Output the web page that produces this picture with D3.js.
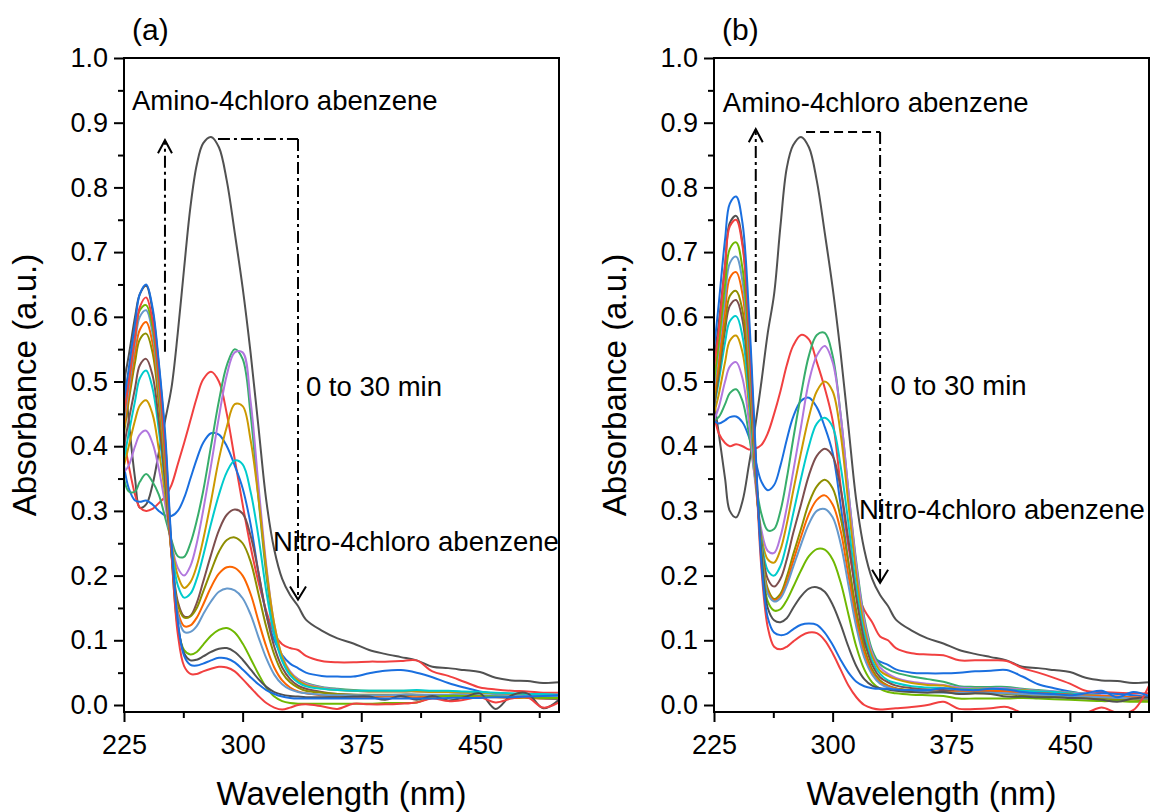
<!DOCTYPE html>
<html><head><meta charset="utf-8">
<script src="https://cdn.jsdelivr.net/npm/d3@7"></script>
<style>
body{margin:0;background:#fff}
svg{display:block}
text{font-family:"Liberation Sans",Arial,Helvetica,sans-serif;fill:#000}
</style>
</head><body>
<svg id="chart" width="1150" height="812"></svg>
<script>
// ---------- data ----------
const wavelength = [225,228,232,235,239,243,247,251,255,259,263,267,271,275,280,285,290,295,300,305,310,315,320,325,330,335,340,350,360,370,380,390,400,410,420,430,440,450,460,470,480,490,500];

const seriesColors = ["#515151","#F14040","#1A6FDF","#37AD6B","#B177DE","#CC9900","#00CBCC","#7D4E4E","#8E8E00","#FB6501","#6699CC","#6FB802","#515151","#F14040","#1A6FDF"];

const xMajorTicks = [225,300,375,450];
const xMinorTicks = [262.5,337.5,412.5,487.5];
const yMajorTicks = [0,0.1,0.2,0.3,0.4,0.5,0.6,0.7,0.8,0.9,1.0];
const yMinorTicks = [0.05,0.15,0.25,0.35,0.45,0.55,0.65,0.75,0.85,0.95];
const panelLabels = ["(a)","(b)"];
const annotationTexts = ["Amino-4chloro abenzene","0 to 30 min","Nitro-4chloro abenzene"];

// panel (a): absorbance spectra, 0 .. 30 min
const absorbanceA = [
 [0.525,0.44,0.35,0.305,0.31, 0.34,0.39,0.44,0.49,0.575, 0.675,0.77,0.835,0.868,0.878, 0.862,0.81,0.73,0.645,0.545, 0.43,0.315,0.24,0.195,0.17, 0.153,0.132,0.115,0.103,0.095, 0.085,0.079,0.074,0.069,0.059, 0.057,0.054,0.051,0.042,0.038, 0.037,0.034,0.035],
 [0.41,0.37,0.325,0.305,0.30, 0.303,0.312,0.322,0.34,0.372, 0.405,0.44,0.475,0.503,0.515, 0.50,0.45,0.38,0.31,0.245, 0.19,0.145,0.11,0.094,0.088, 0.085,0.076,0.068,0.066,0.066, 0.067,0.067,0.068,0.069,0.052, 0.045,0.036,0.027,0.024,0.022, 0.021,0.019,0.019],
 [0.37,0.335,0.316,0.314,0.316, 0.31,0.30,0.293,0.292,0.30, 0.32,0.35,0.38,0.405,0.42, 0.418,0.40,0.37,0.335,0.28, 0.205,0.14,0.10,0.077,0.064, 0.057,0.05,0.045,0.044,0.044, 0.049,0.053,0.054,0.05,0.043, 0.034,0.027,0.021,0.017,0.014, 0.012,0.01,0.009],
 [0.35,0.33,0.33,0.345,0.357, 0.345,0.325,0.29,0.255,0.23, 0.229,0.25,0.285,0.33,0.40, 0.47,0.525,0.55,0.535,0.45, 0.32,0.20,0.115,0.07,0.05, 0.04,0.034,0.028,0.025,0.023, 0.022,0.022,0.022,0.022,0.021, 0.021,0.02,0.02,0.018,0.017, 0.016,0.015,0.015],
 [0.36,0.37,0.40,0.418,0.424, 0.405,0.365,0.31,0.25,0.212, 0.20,0.215,0.25,0.30,0.37, 0.445,0.51,0.545,0.545,0.47, 0.34,0.215,0.125,0.075,0.052, 0.04,0.033,0.027,0.024,0.022, 0.021,0.021,0.021,0.021,0.02, 0.02,0.019,0.019,0.018,0.017, 0.016,0.015,0.015],
 [0.37,0.40,0.44,0.463,0.471, 0.45,0.395,0.325,0.25,0.20, 0.181,0.19,0.215,0.255,0.315, 0.38,0.43,0.465,0.462,0.41, 0.32,0.21,0.125,0.075,0.05, 0.038,0.031,0.026,0.023,0.022, 0.021,0.021,0.021,0.021,0.02, 0.02,0.019,0.019,0.018,0.017, 0.016,0.015,0.014],
 [0.38,0.42,0.47,0.505,0.517, 0.49,0.425,0.34,0.245,0.185, 0.166,0.172,0.195,0.23,0.28, 0.325,0.36,0.378,0.372,0.33, 0.26,0.175,0.108,0.068,0.046, 0.035,0.029,0.025,0.023,0.022, 0.022,0.022,0.022,0.023,0.022, 0.022,0.021,0.02,0.019,0.018, 0.017,0.017,0.016],
 [0.40,0.44,0.49,0.525,0.535, 0.51,0.44,0.345,0.235,0.16, 0.137,0.138,0.158,0.19,0.232, 0.27,0.294,0.302,0.296,0.262, 0.205,0.14,0.09,0.058,0.04, 0.03,0.025,0.02,0.017,0.016, 0.015,0.015,0.015,0.015,0.015, 0.015,0.014,0.014,0.013,0.013, 0.012,0.012,0.012],
 [0.42,0.47,0.53,0.565,0.574, 0.545,0.465,0.36,0.235,0.155, 0.135,0.137,0.15,0.175,0.207, 0.237,0.255,0.259,0.25,0.222, 0.172,0.12,0.078,0.05,0.035, 0.027,0.022,0.019,0.017,0.016, 0.016,0.016,0.016,0.016,0.015, 0.015,0.015,0.014,0.014,0.013, 0.013,0.012,0.012],
 [0.43,0.48,0.545,0.58,0.592, 0.56,0.48,0.37,0.235,0.145, 0.122,0.123,0.135,0.155,0.182, 0.203,0.213,0.212,0.20,0.172, 0.13,0.09,0.058,0.038,0.027, 0.021,0.018,0.015,0.013,0.012, 0.012,0.013,0.013,0.012,0.013, 0.014,0.014,0.013,0.012,0.011, 0.011,0.01,0.01],
 [0.44,0.49,0.56,0.60,0.61, 0.575,0.49,0.38,0.24,0.14, 0.113,0.113,0.122,0.14,0.16, 0.175,0.18,0.177,0.165,0.14, 0.105,0.072,0.047,0.032,0.024, 0.02,0.018,0.016,0.015,0.015, 0.015,0.015,0.016,0.016,0.016, 0.016,0.016,0.015,0.015,0.014, 0.014,0.013,0.013],
 [0.45,0.50,0.57,0.61,0.618, 0.585,0.50,0.385,0.235,0.12, 0.085,0.078,0.082,0.093,0.107, 0.116,0.119,0.112,0.095,0.072, 0.048,0.027,0.013,0.006,0.003, 0.002,0.002,0.002,0.002,0.002, 0.002,0.003,0.003,0.004,0.012, 0.014,0.014,0.014,0.013,0.012, 0.012,0.011,0.011],
 [0.50,0.54,0.60,0.635,0.648, 0.61,0.525,0.41,0.245,0.125, 0.08,0.069,0.07,0.075,0.082, 0.087,0.088,0.082,0.07,0.055, 0.04,0.028,0.02,0.016,0.014, 0.013,0.012,0.012,0.012,0.013, 0.013,0.008,0.014,0.008,0.014, 0.007,0.012,0.018,-0.006,0.015, 0.018,-0.005,0.008],
 [0.45,0.50,0.57,0.615,0.63, 0.595,0.51,0.395,0.235,0.11, 0.06,0.048,0.048,0.052,0.056, 0.059,0.058,0.052,0.04,0.027, 0.014,0.003,-0.004,-0.007,-0.004, 0.0,0.001,-0.002,-0.006,0.002, 0.001,0.001,0.002,0.004,0.01, 0.006,0.008,0.012,0.004,0.01, 0.012,-0.004,0.004],
 [0.47,0.52,0.59,0.635,0.65, 0.615,0.53,0.42,0.25,0.13, 0.076,0.062,0.061,0.064,0.069, 0.073,0.072,0.066,0.055,0.043, 0.032,0.023,0.017,0.013,0.011, 0.01,0.01,0.01,0.01,0.01, 0.01,0.01,0.01,0.01,0.01, 0.011,0.011,0.011,0.012,0.012, 0.013,0.014,0.015]
];

// panel (b): absorbance spectra, 0 .. 30 min
const absorbanceB = [
 [0.47,0.42,0.35,0.30,0.29, 0.315,0.37,0.43,0.50,0.575, 0.635,0.74,0.83,0.865,0.878, 0.862,0.81,0.73,0.645,0.545, 0.43,0.315,0.24,0.195,0.17, 0.153,0.132,0.115,0.103,0.095, 0.085,0.079,0.074,0.069,0.059, 0.057,0.054,0.051,0.042,0.038, 0.037,0.034,0.035],
 [0.45,0.42,0.405,0.40,0.403, 0.40,0.395,0.396,0.402,0.42, 0.45,0.485,0.525,0.555,0.572, 0.565,0.53,0.49,0.44,0.34, 0.245,0.18,0.147,0.128,0.106, 0.10,0.088,0.08,0.078,0.077, 0.069,0.069,0.069,0.068,0.057, 0.05,0.042,0.033,0.022,0.02, 0.019,0.018,0.018],
 [0.44,0.435,0.44,0.445,0.446, 0.437,0.415,0.38,0.345,0.332, 0.34,0.37,0.41,0.445,0.47, 0.475,0.46,0.43,0.39,0.31, 0.22,0.14,0.095,0.075,0.067, 0.062,0.055,0.05,0.049,0.049, 0.05,0.052,0.053,0.054,0.044, 0.032,0.026,0.021,0.017,0.018, 0.017,0.015,0.012],
 [0.44,0.445,0.465,0.482,0.488, 0.47,0.42,0.35,0.295,0.27, 0.272,0.30,0.35,0.41,0.48, 0.54,0.572,0.575,0.54,0.45, 0.33,0.22,0.135,0.085,0.063, 0.055,0.05,0.044,0.04,0.036, 0.029,0.028,0.028,0.028,0.025, 0.023,0.021,0.02,0.017,0.014, 0.012,0.01,0.01],
 [0.44,0.46,0.50,0.523,0.53, 0.505,0.44,0.345,0.27,0.238, 0.235,0.26,0.305,0.36,0.43, 0.50,0.54,0.555,0.53,0.45, 0.33,0.215,0.13,0.08,0.058, 0.048,0.042,0.036,0.033,0.031, 0.027,0.026,0.026,0.026,0.024, 0.022,0.021,0.019,0.017,0.015, 0.013,0.012,0.011],
 [0.45,0.48,0.53,0.563,0.571, 0.545,0.465,0.355,0.26,0.225, 0.22,0.24,0.28,0.33,0.39, 0.445,0.485,0.50,0.485,0.42, 0.31,0.20,0.12,0.075,0.053, 0.045,0.04,0.034,0.031,0.03, 0.025,0.025,0.025,0.024,0.023, 0.021,0.02,0.018,0.016,0.014, 0.012,0.011,0.01],
 [0.46,0.50,0.56,0.593,0.601, 0.57,0.48,0.36,0.255,0.208, 0.20,0.215,0.25,0.295,0.35, 0.40,0.435,0.444,0.43,0.37, 0.28,0.18,0.11,0.068,0.048, 0.038,0.034,0.029,0.027,0.026, 0.024,0.024,0.024,0.024,0.022, 0.021,0.02,0.018,0.016,0.014, 0.012,0.011,0.01],
 [0.46,0.51,0.58,0.617,0.626, 0.595,0.50,0.37,0.25,0.195, 0.183,0.195,0.225,0.265,0.31, 0.355,0.385,0.396,0.385,0.335, 0.255,0.165,0.10,0.062,0.043, 0.035,0.03,0.026,0.024,0.023, 0.021,0.021,0.021,0.021,0.019, 0.018,0.017,0.016,0.014,0.013, 0.011,0.01,0.009],
 [0.47,0.52,0.59,0.632,0.64, 0.61,0.51,0.37,0.245,0.18, 0.164,0.172,0.198,0.232,0.272, 0.312,0.338,0.348,0.335,0.29, 0.22,0.145,0.088,0.055,0.038, 0.03,0.026,0.023,0.021,0.02, 0.018,0.018,0.018,0.017,0.015, 0.014,0.013,0.012,0.011,0.01, 0.009,0.008,0.008],
 [0.48,0.53,0.61,0.66,0.669, 0.635,0.53,0.375,0.24,0.175, 0.162,0.168,0.19,0.222,0.26, 0.295,0.317,0.324,0.31,0.27, 0.20,0.13,0.08,0.05,0.035, 0.029,0.025,0.022,0.021,0.02, 0.021,0.022,0.022,0.021,0.019, 0.018,0.017,0.016,0.015,0.014, 0.013,0.012,0.011],
 [0.49,0.55,0.63,0.683,0.693, 0.655,0.545,0.38,0.24,0.172, 0.16,0.165,0.185,0.213,0.248, 0.28,0.30,0.303,0.29,0.25, 0.185,0.12,0.073,0.047,0.033, 0.027,0.024,0.021,0.02,0.019, 0.019,0.019,0.019,0.018,0.017, 0.016,0.015,0.014,0.013,0.012, 0.011,0.01,0.01],
 [0.50,0.56,0.65,0.705,0.715, 0.675,0.56,0.385,0.235,0.16, 0.146,0.148,0.162,0.182,0.208, 0.23,0.241,0.24,0.225,0.19, 0.14,0.09,0.055,0.035,0.025, 0.02,0.018,0.016,0.015,0.014, 0.01,0.01,0.01,0.01,0.011, 0.01,0.009,0.008,0.007,0.006, 0.006,0.005,0.005],
 [0.53,0.59,0.68,0.745,0.756, 0.715,0.59,0.40,0.23,0.15, 0.131,0.128,0.134,0.15,0.168, 0.18,0.182,0.175,0.155,0.125, 0.09,0.06,0.04,0.03,0.026, 0.024,0.022,0.02,0.019,0.02, 0.017,0.018,0.017,0.013,0.013, 0.012,0.012,0.011,0.01,0.008, 0.005,0.01,0.012],
 [0.52,0.58,0.68,0.74,0.75, 0.71,0.58,0.39,0.21,0.12, 0.09,0.086,0.09,0.098,0.107, 0.112,0.111,0.10,0.08,0.055, 0.03,0.012,0.0,-0.005,-0.007, -0.006,-0.005,-0.003,0.0,0.005, -0.006,-0.006,-0.005,-0.003,-0.012, -0.013,-0.013,-0.012,-0.012,-0.004, -0.012,-0.008,0.03],
 [0.55,0.62,0.72,0.775,0.786, 0.745,0.61,0.41,0.22,0.135, 0.112,0.108,0.11,0.117,0.124, 0.126,0.124,0.112,0.093,0.07, 0.05,0.036,0.029,0.026,0.025, 0.025,0.024,0.023,0.023,0.026, 0.024,0.023,0.025,0.024,0.02, 0.018,0.017,0.015,0.018,0.022, 0.012,0.02,0.014]
];

// ---------- layout ----------
const plotTop = 58, plotBottom = 712, plotWidth = 435;
const xDomain = [225, 500];
const yDomain = [0, 1];
const panels = [
  {id:"a", left:124, data:absorbanceA, label:panelLabels[0],
   up:{x:250.9, y0:0.546, y1:0.873},
   box:{x0:284.4, x1:335.0, y:0.875, y1:0.163, topDash:"12,4,3,4"},
   texts:[{x:230.0,y:0.92},{x:340.0,y:0.477},{x:319.2,y:0.238}]},
  {id:"b", left:714, data:absorbanceB, label:panelLabels[1],
   up:{x:251.4, y0:0.561, y1:0.89},
   box:{x0:283.2, x1:330.0, y:0.8856, y1:0.189, topDash:"9,5"},
   texts:[{x:230.6,y:0.917},{x:336.6,y:0.479},{x:316.6,y:0.2875}]}
];

const svg = d3.select("#chart");
const font = '"Liberation Sans",Arial,Helvetica,sans-serif';

panels.forEach(p => {
  const x = d3.scaleLinear().domain(xDomain).range([p.left, p.left + plotWidth]);
  const y = d3.scaleLinear().domain(yDomain).range([705, plotTop]);
  const g = svg.append("g");

  const clipId = "clip-" + p.id;
  svg.append("clipPath").attr("id", clipId)
    .append("rect").attr("x", p.left).attr("y", plotTop)
    .attr("width", plotWidth).attr("height", plotBottom - plotTop);

  const line = d3.line()
    .x((d, i) => x(wavelength[i]))
    .y(d => y(d))
    .curve(d3.curveCatmullRom.alpha(0.5));

  g.append("g").attr("clip-path", `url(#${clipId})`)
    .selectAll("path").data(p.data).join("path")
    .attr("d", line)
    .attr("fill", "none")
    .attr("stroke", (d, i) => seriesColors[i])
    .attr("stroke-width", 2)
    .attr("stroke-linejoin", "round");

  // frame
  g.append("rect")
    .attr("x", p.left).attr("y", plotTop)
    .attr("width", plotWidth).attr("height", plotBottom - plotTop)
    .attr("fill", "none").attr("stroke", "#000").attr("stroke-width", 2);

  // y axis
  const yAx = g.append("g").attr("transform", `translate(${p.left},0)`)
    .call(d3.axisLeft(y).tickValues(yMajorTicks).tickSize(10).tickPadding(6)
      .tickSizeOuter(0).tickFormat(d3.format(".1f")));
  yAx.select(".domain").remove();
  g.append("g").attr("transform", `translate(${p.left},0)`)
    .call(d3.axisLeft(y).tickValues(yMinorTicks).tickSize(6).tickFormat("").tickSizeOuter(0))
    .select(".domain").remove();

  // x axis
  const xAx = g.append("g").attr("transform", `translate(0,${plotBottom})`)
    .call(d3.axisBottom(x).tickValues(xMajorTicks).tickSize(10).tickPadding(13)
      .tickSizeOuter(0).tickFormat(d3.format("d")));
  xAx.select(".domain").remove();
  g.append("g").attr("transform", `translate(0,${plotBottom})`)
    .call(d3.axisBottom(x).tickValues(xMinorTicks).tickSize(6).tickFormat("").tickSizeOuter(0))
    .select(".domain").remove();

  g.selectAll(".tick line").attr("stroke", "#000").attr("stroke-width", 2);
  g.selectAll(".tick text").attr("font-size", 27).attr("font-family", font).attr("fill", "#000");

  // axis titles
  g.append("text")
    .attr("transform", `translate(${p.left - 88},${(plotTop + plotBottom) / 2}) rotate(-90)`)
    .attr("text-anchor", "middle").attr("font-size", 33)
    .text("Absorbance (a.u.)");
  g.append("text")
    .attr("x", p.left + plotWidth / 2).attr("y", 805)
    .attr("text-anchor", "middle").attr("font-size", 33)
    .text("Wavelength (nm)");

  // panel label
  g.append("text").attr("x", p.left + 8).attr("y", 40)
    .attr("font-size", 30).text(p.label);

  // annotations
  p.texts.forEach((t, i) => {
    g.append("text").attr("x", x(t.x)).attr("y", y(t.y))
      .attr("font-size", 27.5).text(annotationTexts[i]);
  });

  const dashDot = "12,4,3,4";
  // upward arrow
  g.append("line")
    .attr("x1", x(p.up.x)).attr("x2", x(p.up.x))
    .attr("y1", y(p.up.y0)).attr("y2", y(p.up.y1))
    .attr("stroke", "#000").attr("stroke-width", 2).attr("stroke-dasharray", dashDot);
  g.append("path")
    .attr("d", `M${x(p.up.x) - 7},${y(p.up.y1) + 13} L${x(p.up.x)},${y(p.up.y1)} L${x(p.up.x) + 7},${y(p.up.y1) + 13}`)
    .attr("fill", "none").attr("stroke", "#000").attr("stroke-width", 2);

  // top connector + downward arrow
  g.append("line")
    .attr("x1", x(p.box.x0)).attr("x2", x(p.box.x1))
    .attr("y1", y(p.box.y)).attr("y2", y(p.box.y))
    .attr("stroke", "#000").attr("stroke-width", 2).attr("stroke-dasharray", p.box.topDash);
  g.append("line")
    .attr("x1", x(p.box.x1)).attr("x2", x(p.box.x1))
    .attr("y1", y(p.box.y)).attr("y2", y(p.box.y1))
    .attr("stroke", "#000").attr("stroke-width", 2).attr("stroke-dasharray", dashDot);
  g.append("path")
    .attr("d", `M${x(p.box.x1) - 8},${y(p.box.y1) - 13} L${x(p.box.x1)},${y(p.box.y1)} L${x(p.box.x1) + 8},${y(p.box.y1) - 13}`)
    .attr("fill", "none").attr("stroke", "#000").attr("stroke-width", 2);
});
</script>
</body></html>
